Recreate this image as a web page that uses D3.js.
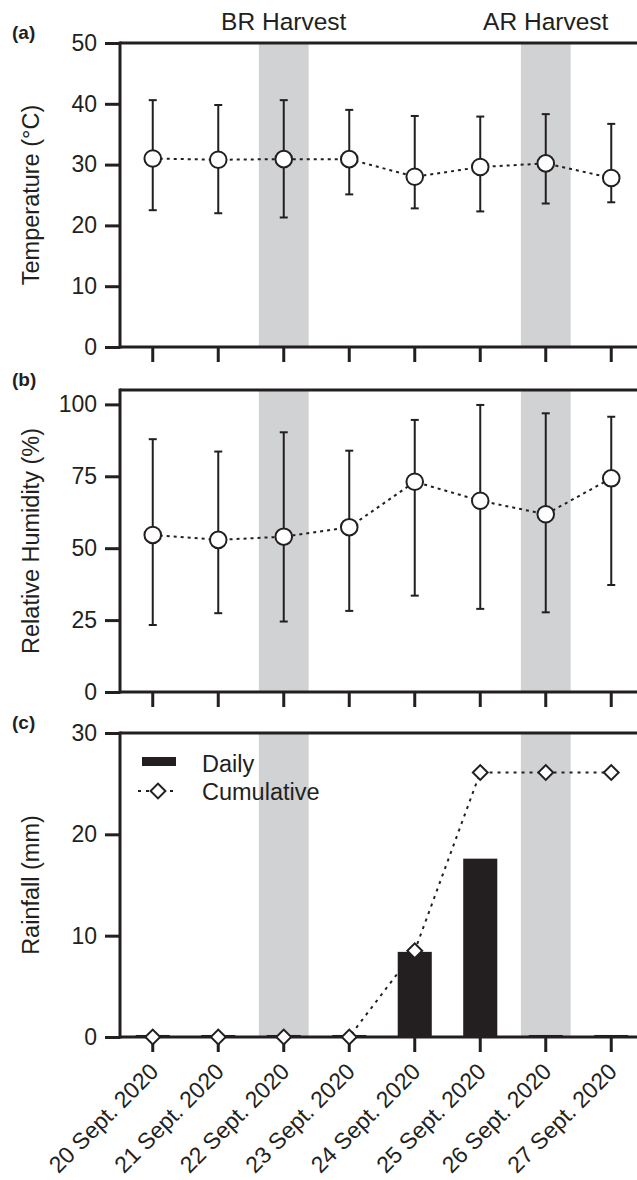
<!DOCTYPE html>
<html>
<head>
<meta charset="utf-8">
<script src="https://cdn.jsdelivr.net/npm/d3@7"></script>
<style>
  body { margin: 0; background: #fff; }
  text { font-family: "Liberation Sans", Arial, Helvetica, sans-serif; fill: #231f20; }
</style>
</head>
<body>
<div id="chart"></div>
<script>
// data
const dates = ["20 Sept. 2020", "21 Sept. 2020", "22 Sept. 2020", "23 Sept. 2020",
               "24 Sept. 2020", "25 Sept. 2020", "26 Sept. 2020", "27 Sept. 2020"];
const tempMean = [31.0, 30.8, 30.9, 30.9, 28.0, 29.6, 30.2, 27.8];
const tempMax  = [40.6, 39.8, 40.6, 39.0, 38.0, 37.9, 38.3, 36.7];
const tempMin  = [22.5, 22.0, 21.3, 25.1, 22.8, 22.3, 23.6, 23.8];
const rhMean = [54.6, 52.9, 54.0, 57.3, 73.1, 66.5, 61.8, 74.3];
const rhMax  = [87.9, 83.6, 90.3, 83.9, 94.6, 99.8, 96.9, 95.7];
const rhMin  = [23.3, 27.4, 24.5, 28.2, 33.5, 28.9, 27.7, 37.2];
const rainDaily = [0.2, 0.2, 0.2, 0.2, 8.4, 17.6, 0.2, 0.2];
const rainCum   = [0, 0, 0, 0, 8.5, 26.1, 26.1, 26.1];
const harvests = [{date: "22 Sept. 2020", label: "BR Harvest"}, {date: "26 Sept. 2020", label: "AR Harvest"}];

const width = 637, height = 1180;
const ink = "#231f20", shade = "#d1d2d4";
const left = 120, right = 637;

const svg = d3.select("#chart").append("svg")
  .attr("width", width).attr("height", height);

const x = d3.scaleBand().domain(dates).range([left, 644]);
const cx = d => x(d) + x.bandwidth() / 2;

const panels = [
  {tag: "(a)", title: "Temperature (°C)", top: 43, bottom: 347, domain: [0, 50], ticks: [0, 10, 20, 30, 40, 50]},
  {tag: "(b)", title: "Relative Humidity (%)", top: 390, bottom: 692, domain: [0, 105], ticks: [0, 25, 50, 75, 100]},
  {tag: "(c)", title: "Rainfall (mm)", top: 733, bottom: 1037, domain: [0, 30], ticks: [0, 10, 20, 30]}
];

panels.forEach(p => {
  p.y = d3.scaleLinear().domain(p.domain).range([p.bottom, p.top]);
  const g = svg.append("g");
  p.g = g;

  // harvest shading
  g.selectAll(".shade").data(harvests).join("rect")
    .attr("x", d => cx(d.date) - x.bandwidth() * 0.38)
    .attr("width", x.bandwidth() * 0.76)
    .attr("y", p.top).attr("height", p.bottom - p.top)
    .attr("fill", shade);

  // frame lines
  g.append("line").attr("x1", left).attr("x2", right).attr("y1", p.top).attr("y2", p.top)
    .attr("stroke", ink).attr("stroke-width", 3);
  g.append("line").attr("x1", left).attr("x2", right).attr("y1", p.bottom).attr("y2", p.bottom)
    .attr("stroke", ink).attr("stroke-width", 3);
  g.append("line").attr("x1", left).attr("x2", left).attr("y1", p.top - 1.5).attr("y2", p.bottom + 1.5)
    .attr("stroke", ink).attr("stroke-width", 3);

  // y axis
  const yAxis = d3.axisLeft(p.y).tickValues(p.ticks).tickSize(15).tickPadding(8);
  const ya = g.append("g").attr("transform", `translate(${left},0)`).call(yAxis);
  ya.select(".domain").remove();
  ya.selectAll(".tick line").attr("stroke", ink).attr("stroke-width", 3);
  ya.selectAll(".tick text").attr("font-size", 23).attr("fill", ink)
    .style("font-family", "'Liberation Sans', Arial, sans-serif");

  // x axis ticks
  const xAxis = d3.axisBottom(x).tickSize(15).tickFormat("");
  const xa = g.append("g").attr("transform", `translate(0,${p.bottom})`).call(xAxis);
  xa.select(".domain").remove();
  xa.selectAll(".tick line").attr("stroke", ink).attr("stroke-width", 3);

  // title
  g.append("text")
    .attr("transform", `translate(39,${(p.top + p.bottom) / 2}) rotate(-90)`)
    .attr("text-anchor", "middle").attr("font-size", 23.5).text(p.title);

  // panel tag
  g.append("text").attr("x", 12).attr("y", p.top - 4)
    .attr("font-size", 19).attr("font-weight", "bold").text(p.tag);
});

// harvest labels
svg.selectAll(".hlab").data(harvests).join("text")
  .attr("x", d => cx(d.date)).attr("y", 30)
  .attr("text-anchor", "middle").attr("font-size", 24.5)
  .text(d => d.label);

function errorPanel(p, mean, lo, hi) {
  const g = p.g;
  const idx = d3.range(dates.length);
  g.append("path")
    .datum(idx)
    .attr("d", d3.line().x(i => cx(dates[i])).y(i => p.y(mean[i])))
    .attr("fill", "none").attr("stroke", ink).attr("stroke-width", 2)
    .attr("stroke-dasharray", "3,4");
  const eb = g.selectAll(".eb").data(idx).join("g");
  eb.append("line")
    .attr("x1", i => cx(dates[i])).attr("x2", i => cx(dates[i]))
    .attr("y1", i => p.y(lo[i])).attr("y2", i => p.y(hi[i]))
    .attr("stroke", ink).attr("stroke-width", 2);
  [lo, hi].forEach(arr => {
    eb.append("line")
      .attr("x1", i => cx(dates[i]) - 4).attr("x2", i => cx(dates[i]) + 4)
      .attr("y1", i => p.y(arr[i])).attr("y2", i => p.y(arr[i]))
      .attr("stroke", ink).attr("stroke-width", 2);
  });
  eb.append("circle")
    .attr("cx", i => cx(dates[i])).attr("cy", i => p.y(mean[i])).attr("r", 8.3)
    .attr("fill", "#fff").attr("stroke", ink).attr("stroke-width", 2);
}

errorPanel(panels[0], tempMean, tempMin, tempMax);
errorPanel(panels[1], rhMean, rhMin, rhMax);

// rainfall
const pc = panels[2];
const barW = x.bandwidth() * 0.52;
pc.g.selectAll(".bar").data(dates).join("rect")
  .attr("x", d => cx(d) - barW / 2).attr("width", barW)
  .attr("y", (d, i) => pc.y(rainDaily[i]))
  .attr("height", (d, i) => pc.y(0) - pc.y(rainDaily[i]))
  .attr("fill", ink);

const idx = d3.range(dates.length);
pc.g.append("path").datum(idx)
  .attr("d", d3.line().x(i => cx(dates[i])).y(i => pc.y(rainCum[i])))
  .attr("fill", "none").attr("stroke", ink).attr("stroke-width", 2)
  .attr("stroke-dasharray", "3,5");

const diamond = d3.symbol().type(d3.symbolSquare).size(110);
pc.g.selectAll(".dia").data(idx).join("path")
  .attr("d", diamond)
  .attr("transform", i => `translate(${cx(dates[i])},${pc.y(rainCum[i])}) rotate(45)`)
  .attr("fill", "#fff").attr("stroke", ink).attr("stroke-width", 2);

// legend
const lg = pc.g.append("g");
lg.append("rect").attr("x", 142).attr("y", 757).attr("width", 34).attr("height", 9).attr("fill", ink);
lg.append("line").attr("x1", 138).attr("x2", 178).attr("y1", 791).attr("y2", 791)
  .attr("stroke", ink).attr("stroke-width", 2).attr("stroke-dasharray", "3,5");
lg.append("path").attr("d", diamond).attr("transform", "translate(158,791) rotate(45)")
  .attr("fill", "#fff").attr("stroke", ink).attr("stroke-width", 2);
lg.append("text").attr("x", 202).attr("y", 772).attr("font-size", 23.5).text("Daily");
lg.append("text").attr("x", 202).attr("y", 800).attr("font-size", 23.5).text("Cumulative");

// rotated date labels
svg.selectAll(".xlab").data(dates).join("text")
  .attr("text-anchor", "end").attr("font-size", 23)
  .attr("transform", d => `translate(${cx(d) + 7},${pc.bottom + 36}) rotate(-45)`)
  .text(d => d);
</script>
</body>
</html>
